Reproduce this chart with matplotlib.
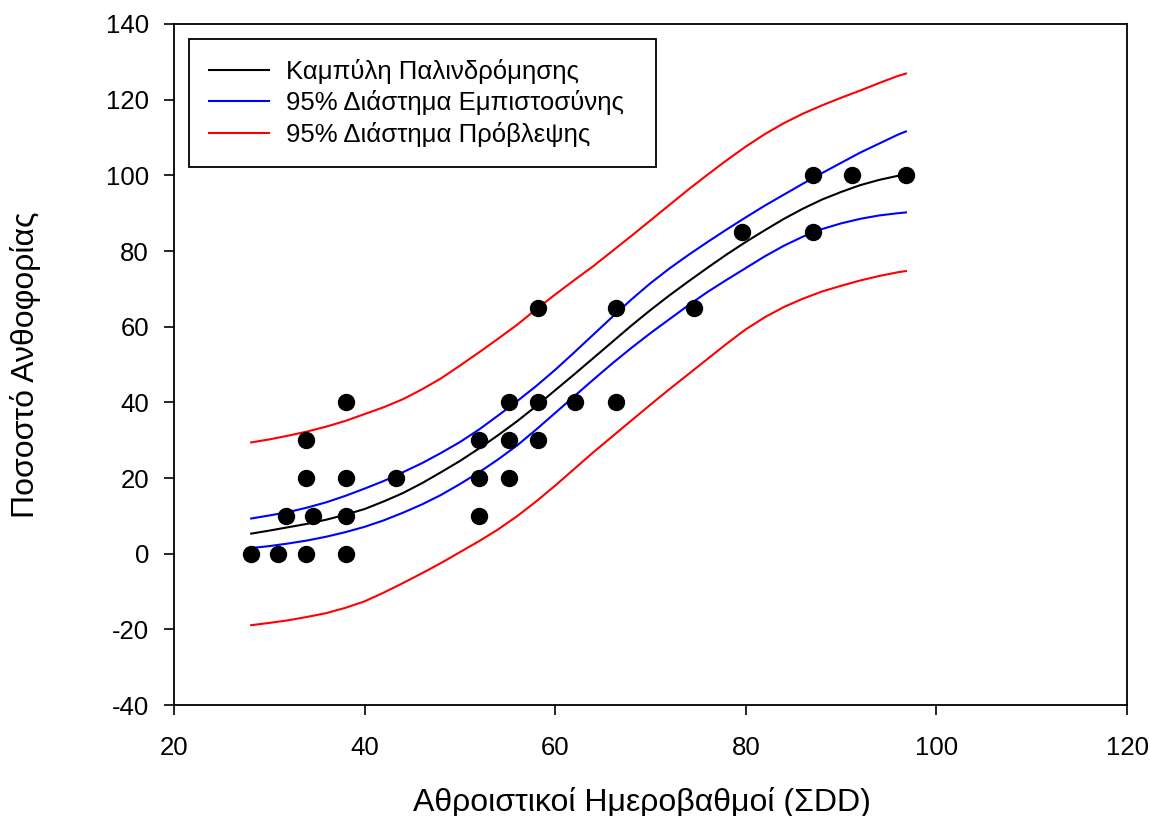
import numpy as np
import matplotlib
matplotlib.use("Agg")
import matplotlib.pyplot as plt

plt.rcParams['font.family'] = ['Liberation Sans', 'DejaVu Sans']
plt.rcParams['axes.unicode_minus'] = False

## points observés
x_obs = [28.1, 30.9, 33.9, 38.1, 31.8, 34.6, 38.1, 33.9, 38.1, 43.3, 33.9, 38.1,
         52.0, 52.0, 55.2, 52.0, 55.2, 58.2, 55.2, 58.2, 62.1, 66.4,
         58.2, 66.4, 74.6, 79.6, 87.1, 87.1, 91.1, 96.8]
y_obs = [0, 0, 0, 0, 10, 10, 10, 20, 20, 20, 30, 40,
         10, 20, 20, 30, 30, 30, 40, 40, 40, 40,
         65, 65, 65, 85, 85, 100, 100, 100]

## courbes (pas de 2)
x_fit = [28.1, 30, 32, 34, 36, 38, 40, 42, 44, 46, 48, 50, 52, 54, 56, 58, 60, 62,
         64, 66, 68, 70, 72, 74, 76, 78, 80, 82, 84, 86, 88, 90, 92, 94, 96, 96.8]
y_fit = [5.3, 6.1, 7.0, 7.9, 9.0, 10.3, 11.8, 13.8, 16.0, 18.6, 21.5, 24.5, 27.8, 31.3,
         35.0, 39.0, 43.2, 47.4, 51.7, 56.0, 60.3, 64.4, 68.3, 72.0, 75.6, 79.1, 82.4,
         85.5, 88.5, 91.2, 93.6, 95.6, 97.4, 98.8, 99.9, 100.3]
ci_hi = [9.3, 10.1, 11.0, 12.2, 13.6, 15.3, 17.2, 19.2, 21.5, 23.9, 26.6, 29.5, 32.8, 36.5,
         40.3, 44.3, 48.6, 53.2, 57.9, 62.6, 67.2, 71.5, 75.4, 79.0, 82.4, 85.7, 88.9,
         92.0, 94.9, 97.8, 100.6, 103.3, 106.0, 108.4, 110.8, 111.6]
ci_lo = [1.5, 2.0, 2.7, 3.5, 4.5, 5.7, 7.1, 8.8, 10.8, 13.0, 15.5, 18.4, 21.5, 24.9,
         28.6, 32.8, 37.2, 41.6, 46.0, 50.3, 54.4, 58.3, 62.0, 65.7, 69.2, 72.4, 75.5,
         78.6, 81.4, 83.8, 85.8, 87.3, 88.5, 89.4, 90.0, 90.2]
pi_hi = [29.4, 30.2, 31.2, 32.3, 33.6, 35.1, 36.9, 38.7, 40.8, 43.4, 46.3, 49.7, 53.2, 56.8,
         60.5, 64.6, 68.5, 72.3, 76.0, 80.0, 84.0, 88.1, 92.2, 96.3, 100.2, 104.0, 107.6,
         110.9, 113.8, 116.3, 118.5, 120.5, 122.4, 124.4, 126.3, 126.9]
pi_lo = [-18.9, -18.3, -17.6, -16.7, -15.7, -14.3, -12.6, -10.3, -7.8, -5.2, -2.5, 0.4, 3.3, 6.4,
         9.9, 13.8, 18.0, 22.4, 26.8, 31.0, 35.2, 39.4, 43.5, 47.5, 51.5, 55.5, 59.3,
         62.5, 65.2, 67.4, 69.3, 70.8, 72.2, 73.4, 74.4, 74.7]

fig = plt.figure(figsize=(11.5, 8.16), dpi=100)
ax = fig.add_axes([0.1513, 0.136, 0.8287, 0.8346])

ax.plot(x_fit, y_fit, color="black", lw=1.5, label="Καμπύλη Παλινδρόμησης")
ax.plot(x_fit, ci_hi, color="blue", lw=1.5, label="95% Διάστημα Εμπιστοσύνης")
ax.plot(x_fit, ci_lo, color="blue", lw=1.5)
ax.plot(x_fit, pi_hi, color="red", lw=1.5, label="95% Διάστημα Πρόβλεψης")
ax.plot(x_fit, pi_lo, color="red", lw=1.5)
ax.plot(x_obs, y_obs, "o", color="black", ms=11.5, zorder=5)

ax.set_xlim(20, 120)
ax.set_ylim(-40, 140)
ax.set_xticks(np.arange(20, 121, 20))
ax.set_yticks(np.arange(-40, 141, 20))
ax.tick_params(direction="out", length=7, width=1.2, labelsize=18.5)
ax.tick_params(axis="x", pad=15)
ax.tick_params(axis="y", pad=11)
for s in ax.spines.values():
    s.set_linewidth(1.3)

ax.set_xlabel("Αθροιστικοί Ημεροβαθμοί (ΣDD)", fontsize=23, va="center")
ax.xaxis.set_label_coords(0.491, -0.1424)
ax.set_ylabel("Ποσοστό Ανθοφορίας", fontsize=23, va="center")
ax.yaxis.set_label_coords(-0.156, 0.5)

leg = ax.legend(loc="upper left", bbox_to_anchor=(0.0157, 0.978, 0.49, 0.0),
                mode="expand", fontsize=18.5, frameon=True, fancybox=False,
                edgecolor="black", framealpha=1, handlelength=2.33, handletextpad=0.66,
                borderpad=0.78, labelspacing=0.25, borderaxespad=0)
leg.get_frame().set_linewidth(1.3)

plt.savefig("out.png", dpi=100)
